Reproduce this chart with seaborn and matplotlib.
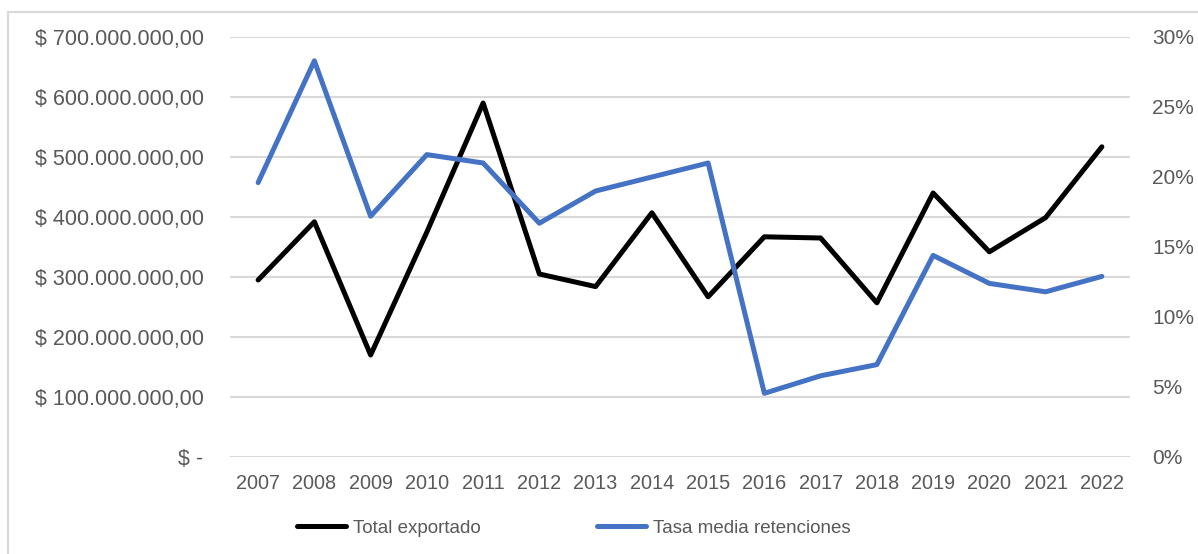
import pandas as pd
import matplotlib.pyplot as plt
import seaborn as sns
from matplotlib.patches import Rectangle
from matplotlib.lines import Line2D

# Datos
years = ["2007", "2008", "2009", "2010", "2011", "2012", "2013", "2014",
         "2015", "2016", "2017", "2018", "2019", "2020", "2021", "2022"]
total_exportado = [295e6, 392e6, 170e6, 375e6, 590e6, 305e6, 284e6, 407e6,
                   267e6, 367e6, 365e6, 257e6, 440e6, 342e6, 399e6, 517e6]
tasa_retenciones = [0.196, 0.283, 0.172, 0.216, 0.210, 0.167, 0.190, 0.200,
                    0.210, 0.0455, 0.058, 0.066, 0.144, 0.124, 0.118, 0.129]

left_ticks = [0, 100e6, 200e6, 300e6, 400e6, 500e6, 600e6, 700e6]
left_labels = ["$ -", "$ 100.000.000,00", "$ 200.000.000,00", "$ 300.000.000,00",
               "$ 400.000.000,00", "$ 500.000.000,00", "$ 600.000.000,00",
               "$ 700.000.000,00"]
right_ticks = [0, 0.05, 0.10, 0.15, 0.20, 0.25, 0.30]
right_labels = ["0%", "5%", "10%", "15%", "20%", "25%", "30%"]

df = pd.DataFrame({"idx": range(len(years)), "year": years,
                   "total": total_exportado, "tasa": tasa_retenciones})

sns.set_style("white")
plt.rcParams['font.family'] = ['Liberation Sans', 'DejaVu Sans']

text_color = "#595959"
grid_color = "#d9d9d9"
black = "#000000"
blue = "#4472c4"

fig = plt.figure(figsize=(11.98, 5.54), dpi=100)
ax = fig.add_axes([230 / 1198, 1 - 457 / 554, 900 / 1198, 420 / 554])

# borde del área del gráfico
fig.add_artist(Rectangle((8 / 1198, -0.1), 1.2, (554 - 12) / 554 + 0.1,
                         transform=fig.transFigure, fill=False,
                         edgecolor="#d9d9d9", linewidth=1.5))

sns.lineplot(data=df, x="idx", y="total", ax=ax, color=black, linewidth=3.6,
             sort=False, legend=False)
ax.set_ylim(0, 700e6)
ax.set_xlim(-0.5, len(years) - 0.5)
ax.set_yticks(left_ticks)
ax.set_yticklabels(left_labels)
ax.set_xticks(range(len(years)))
ax.set_xticklabels(years)
ax.grid(axis="y", color=grid_color, linewidth=1.5)
ax.set_axisbelow(True)
ax.set_xlabel("")
ax.set_ylabel("")
for s in ax.spines.values():
    s.set_visible(False)
ax.tick_params(axis="y", length=0, labelsize=15.5, colors=text_color, pad=19)
ax.tick_params(axis="x", length=0, labelsize=14.3, colors=text_color, pad=12)

ax2 = ax.twinx()
sns.lineplot(data=df, x="idx", y="tasa", ax=ax2, color=blue, linewidth=3.6,
             sort=False, legend=False)
ax2.set_ylim(0, 0.30)
ax2.set_yticks(right_ticks)
ax2.set_yticklabels(right_labels)
ax2.set_ylabel("")
for s in ax2.spines.values():
    s.set_visible(False)
ax2.tick_params(axis="y", length=0, labelsize=15, colors=text_color, pad=16)

handles = [Line2D([], [], color=black, linewidth=3.6),
           Line2D([], [], color=blue, linewidth=3.6)]
fig.legend(handles, ["Total exportado", "Tasa media retenciones"],
           loc="center", bbox_to_anchor=(574 / 1198, 1 - 528 / 554), ncol=2,
           frameon=False, fontsize=13.5, handlelength=2.6, handletextpad=0.4,
           columnspacing=6.2, labelcolor=text_color)

fig.savefig("out.png", dpi=100)
